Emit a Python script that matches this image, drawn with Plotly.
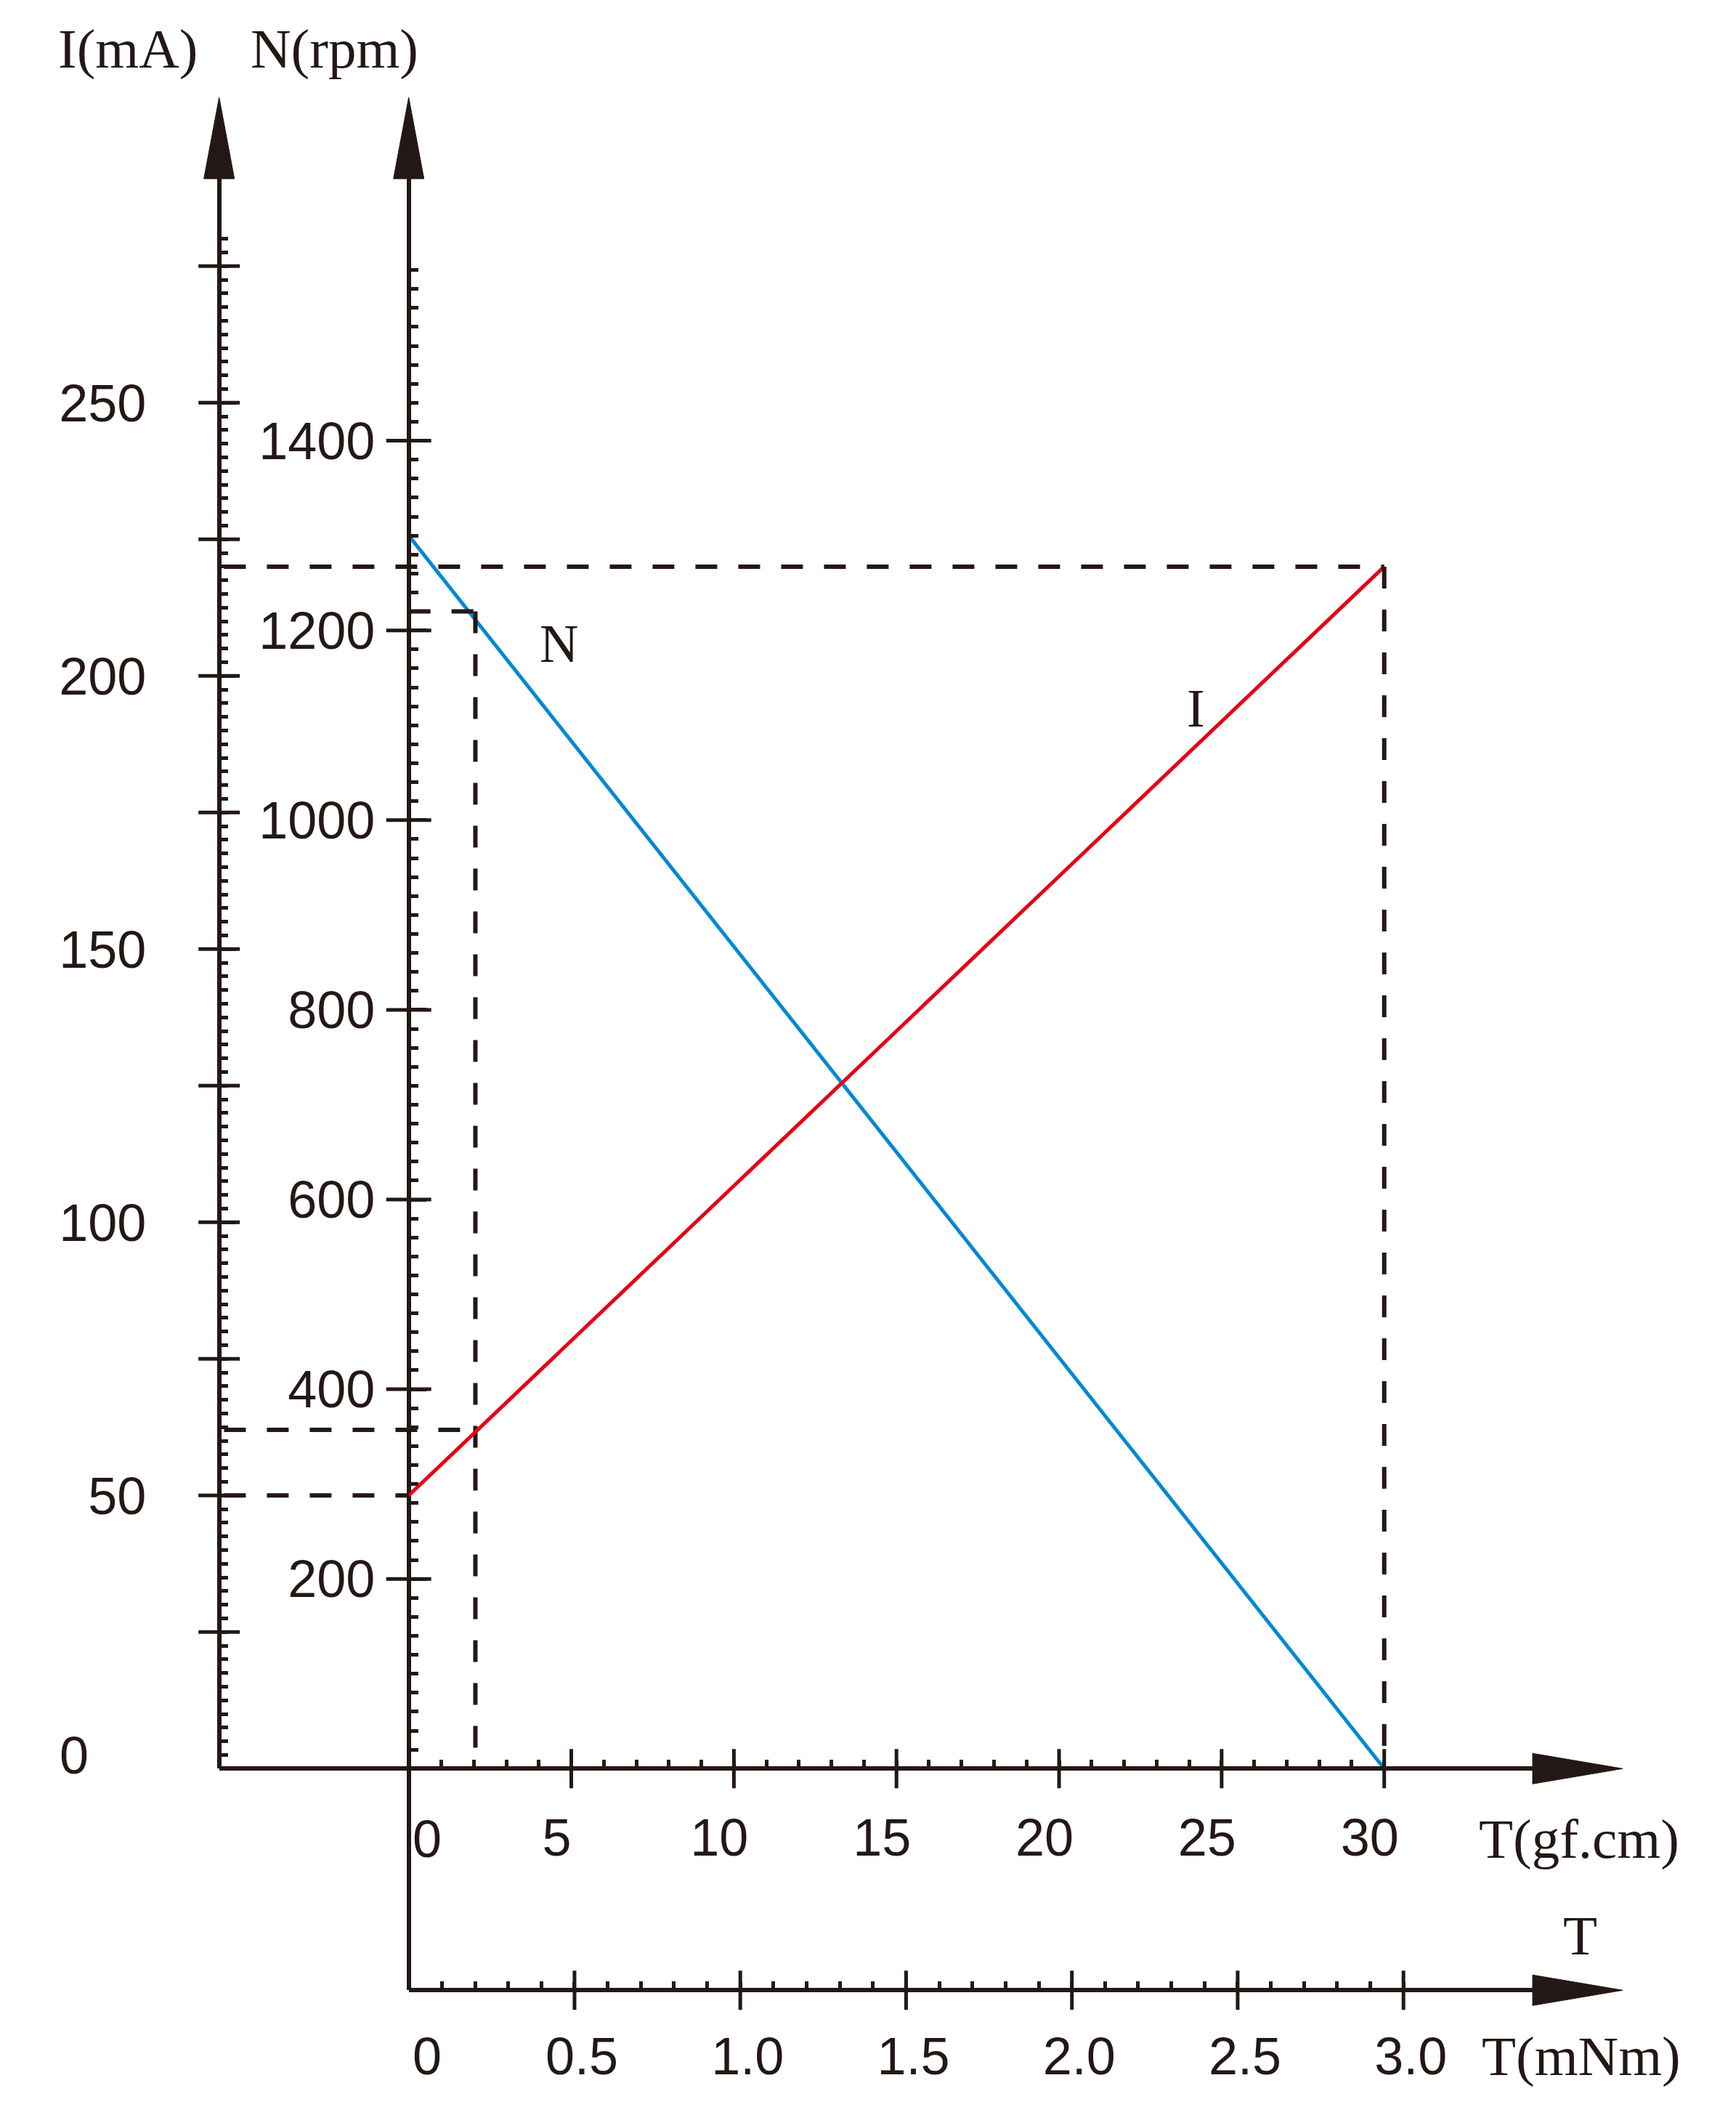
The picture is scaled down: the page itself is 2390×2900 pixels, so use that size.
import plotly.graph_objects as go

# ---------------- data ----------------
T_gfcm = [0, 30]            # torque, gf.cm
N_rpm = [1300, 0]           # speed, rpm
I_mA = [50, 220]            # current, mA

T_op = 2.05                 # marked operating torque (gf.cm)
N_op = 1220                 # speed at the marked point (rpm)
I_op = 62                   # current at the marked point (mA)
T_max = 30                  # stall torque (gf.cm)
I_max = 220                 # stall current (mA)
I_noload = 50               # no-load current (mA)

N_label_vals = [200, 400, 600, 800, 1000, 1200, 1400]
N_mid_vals = [100, 300, 500, 700, 900, 1100, 1300, 1500]
N_minor_vals = list(range(20, 1600, 20))

I_label_vals = [50, 100, 150, 200, 250]
I_cross_vals = [25, 50, 75, 100, 125, 150, 175, 200, 225, 250, 275]
I_mid_vals = [12.5, 37.5, 62.5, 87.5, 112.5, 137.5, 162.5, 187.5, 212.5, 237.5, 262.5]
I_minor_vals = [2.5 * k for k in range(1, 113)]

T_label_vals = [5, 10, 15, 20, 25, 30]
T_minor_vals = [t for t in range(1, 30) if t % 5]

M_label_vals = [0.5, 1.0, 1.5, 2.0, 2.5, 3.0]
M_label_text = ["0.5", "1.0", "1.5", "2.0", "2.5", "3.0"]
M_minor_vals = [k / 10 for k in range(1, 30) if k % 5]

GF_TO_MNM = 0.0980665

# ---------------- layout geometry (pixels) ----------------
W, H = 2390, 2900
PX_IAX = 301.7      # I axis
PX_NAX = 562.7      # N axis (T = 0)
PX_T30 = 1905.7     # T = 30 gf.cm
PX_XEND = 2112      # end of horizontal axis lines (arrow base)
PY_BASE = 2434.3    # T(gf.cm) axis line
PY_TOP = 244        # top of vertical axes (arrow base)
PY_AX2 = 2739.3     # T(mNm) axis line

PX_PER_T = (PX_T30 - PX_NAX) / 30.0
PX_PER_N = 261.1 / 200.0
PX_PER_I = 376.0 / 50.0
PX_PER_M = PX_PER_T / GF_TO_MNM

BLACK = "#231815"
BLUE = "#0088d4"
RED = "#e60012"
SANS = "Liberation Sans, Arial, sans-serif"
SERIF = "Liberation Serif, Times New Roman, serif"
NUM_SIZE = 72
TXT_SIZE = 77
LINE_SYM = 1.4      # plotly draws line-* symbols 1.4x the marker size

def fx(px):
    return px / W

def fy(py):
    return 1 - py / H

x_range = [(PX_IAX - PX_NAX) / PX_PER_T, (PX_XEND - PX_NAX) / PX_PER_T]
x2_range = [0, (PX_XEND - PX_NAX) / PX_PER_M]
y_range = [(PY_BASE - PY_AX2) / PX_PER_N, (PY_BASE - PY_TOP) / PX_PER_N]
y2_range = [0, (PY_BASE - PY_TOP) / PX_PER_I]

fig = go.Figure()

# main curves
fig.add_trace(go.Scatter(x=T_gfcm, y=N_rpm, mode="lines", xaxis="x", yaxis="y",
                         line=dict(color=BLUE, width=5)))
fig.add_trace(go.Scatter(x=T_gfcm, y=I_mA, mode="lines", xaxis="x", yaxis="y2",
                         line=dict(color=RED, width=5)))

dash = dict(color=BLACK, width=6, dash="30px,29px")
x_lo = x_range[0] + 0.15
# dashed guide lines, current axis
fig.add_trace(go.Scatter(
    x=[x_lo, T_max, None, T_max, T_max, None, x_lo, T_op, None, x_lo, 0],
    y=[I_max, I_max, None, I_max, 0, None, I_op, I_op, None, I_noload, I_noload],
    mode="lines", xaxis="x", yaxis="y2", line=dash))
# dashed guide lines, speed axis
fig.add_trace(go.Scatter(
    x=[0, T_op, None, T_op, T_op],
    y=[N_op, N_op, None, N_op, 0],
    mode="lines", xaxis="x", yaxis="y", line=dash))

# crossing major ticks
def cross(x, y, xa, ya, sym, length):
    return go.Scatter(x=x, y=y, xaxis=xa, yaxis=ya, mode="markers", cliponaxis=False,
                      marker=dict(symbol=sym, size=length / LINE_SYM, color=BLACK,
                                  line=dict(width=5, color=BLACK)))

fig.add_trace(cross([0] * len(N_label_vals), N_label_vals, "x", "y", "line-ew", 62))
fig.add_trace(cross([0] * len(I_cross_vals), I_cross_vals, "x3", "y2", "line-ew", 57))
fig.add_trace(cross(T_label_vals, [0] * len(T_label_vals), "x", "y", "line-ns", 54))
fig.add_trace(cross(M_label_vals, [0] * len(M_label_vals), "x2", "y3", "line-ns", 54))

tickfont = dict(family=SANS, size=NUM_SIZE, color=BLACK)
common = dict(showgrid=False, zeroline=False, showline=True, linecolor=BLACK,
              linewidth=6, tickcolor=BLACK, tickwidth=5, automargin=False,
              tickfont=tickfont, fixedrange=True)

def minor(vals, ln):
    return dict(tickvals=vals, ticks="inside", ticklen=ln, tickwidth=5, tickcolor=BLACK,
                showgrid=False)

N_tick_vals = sorted(N_label_vals + N_mid_vals)
I_tick_vals = sorted(I_cross_vals + I_mid_vals)

fig.update_layout(
    width=W, height=H,
    margin=dict(l=0, r=0, t=0, b=0),
    paper_bgcolor="white", plot_bgcolor="rgba(0,0,0,0)",
    showlegend=False, hovermode=False,
    xaxis=dict(domain=[fx(PX_IAX), fx(PX_XEND)], range=x_range, anchor="free",
               position=fy(PY_BASE), ticks="inside", ticklen=8,
               tickvals=T_label_vals, ticktext=[str(v) for v in T_label_vals],
               minor=minor(T_minor_vals, 9), ticklabelshift=-20, ticklabelstandoff=30,
               **common),
    xaxis2=dict(domain=[fx(PX_NAX), fx(PX_XEND)], range=x2_range, anchor="free",
                position=fy(PY_AX2), ticks="inside", ticklen=8,
                tickvals=M_label_vals, ticktext=M_label_text,
                minor=minor(M_minor_vals, 9), ticklabelshift=10, ticklabelstandoff=26,
                **common),
    xaxis3=dict(domain=[fx(PX_IAX - 40), fx(PX_IAX + 40)], range=[-1, 1], visible=False,
                anchor="y2", fixedrange=True),
    yaxis=dict(domain=[fy(PY_AX2), fy(PY_TOP)], range=y_range, anchor="free",
               position=fx(PX_NAX), side="left", ticks="inside", ticklen=21,
               tickvals=N_tick_vals,
               ticktext=[str(v) if v in N_label_vals else "" for v in N_tick_vals],
               minor=minor(N_minor_vals, 10), ticklabelstandoff=29, **common),
    yaxis2=dict(domain=[fy(PY_BASE), fy(PY_TOP)], range=y2_range, anchor="free",
                position=fx(PX_IAX), side="left", ticks="inside", ticklen=20,
                tickvals=I_tick_vals,
                ticktext=[str(int(v)) if v in I_label_vals else "" for v in I_tick_vals],
                minor=minor(I_minor_vals, 9), ticklabelstandoff=83, **common),
    yaxis3=dict(domain=[fy(PY_AX2 + 40), fy(PY_AX2 - 40)], range=[-1, 1], visible=False,
                anchor="x2", fixedrange=True),
)

# arrow heads (paper-anchored, pixel-sized)
def arrow(px, py, path):
    return dict(type="path", xref="paper", yref="paper", xsizemode="pixel",
                ysizemode="pixel", xanchor=fx(px), yanchor=fy(py), path=path,
                fillcolor=BLACK, line=dict(color=BLACK, width=1), layer="above")

up = "M -21,0 L 0,112 L 21,0 Z"
right = "M 0,-21 L 124,0 L 0,21 Z"
fig.update_layout(shapes=[
    arrow(PX_NAX, PY_TOP + 2, up),
    arrow(PX_IAX, PY_TOP + 2, up),
    arrow(PX_XEND - 2, PY_BASE, right),
    arrow(PX_XEND - 2, PY_AX2, right),
])

def txt(text, px, py, family, size, xref="paper", yref="paper", x=None, y=None):
    return dict(text=text, x=fx(px) if x is None else x, y=fy(py) if y is None else y,
                xref=xref, yref=yref, showarrow=False, xanchor="center", yanchor="middle",
                font=dict(family=family, size=size, color=BLACK))

fig.update_layout(annotations=[
    txt("I(mA)", 175.7, 66.6, SERIF, TXT_SIZE),
    txt("N(rpm)", 460.6, 66.6, SERIF, TXT_SIZE),
    txt("T(gf.cm)", 2173.6, 2530.6, SERIF, TXT_SIZE),
    txt("T", 2175, 2664, SERIF, TXT_SIZE),
    txt("T(mNm)", 2177, 2830, SERIF, TXT_SIZE),
    txt("0", 101.7, 2416, SANS, NUM_SIZE),
    txt("0", 588, 2530.6, SANS, NUM_SIZE),
    txt("0", 588, 2830, SANS, NUM_SIZE),
    txt("N", 0, 0, SERIF, 74, xref="x", yref="y", x=4.61, y=1186),
    txt("I", 0, 0, SERIF, 74, xref="x", yref="y2", x=24.2, y=194),
])

fig.write_html("out.html",
               config={"displayModeBar": False, "staticPlot": True},
               post_script="document.body.style.margin='0px';"
                           "document.body.style.overflow='hidden';")
